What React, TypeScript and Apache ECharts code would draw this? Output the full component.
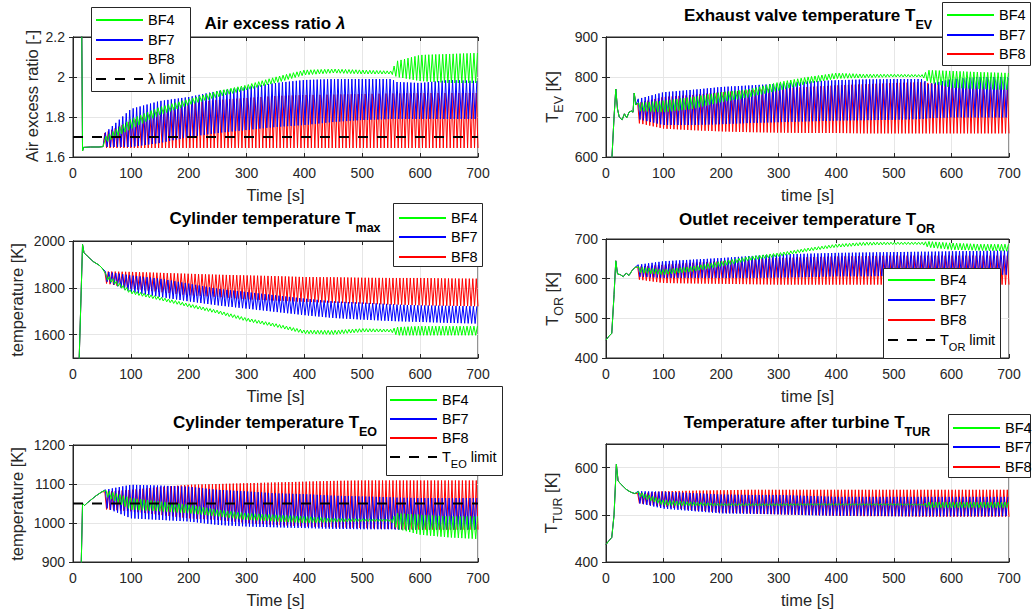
import React, { useEffect, useRef } from 'react';
import * as echarts from 'echarts';

const FONT = '"Liberation Sans", Arial, Helvetica, sans-serif';
const INK = '#262626';
const GRIDC = '#e6e6e6';
const GREEN = '#00ff00';
const BLUE = '#0000ff';
const RED = '#ff0000';
const SERIES_COLORS: Record<string, string> = { BF4: GREEN, BF7: BLUE, BF8: RED };

// time axis
const X_TICKS_MAX = 700;
const HALF_PERIOD = 3; // s, half oscillation period
// envelope knots (s)
const KNOTS = [55, 100, 150, 200, 250, 300, 350, 400, 450, 500, 550, 560, 600, 650, 700];

// ---------- Air excess ratio λ ----------
const LAM_START_T = [0, 15, 16.5, 18, 30, 45, 52];
const LAM_START_V = [2.3, 2.3, 1.63, 1.648, 1.65, 1.65, 1.652];
const LAM_BF4_HI = [1.70, 1.79, 1.85, 1.89, 1.93, 1.96, 2.0, 2.035, 2.04, 2.035, 2.03, 2.08, 2.11, 2.115, 2.12];
const LAM_BF4_LO = [1.67, 1.74, 1.81, 1.86, 1.90, 1.935, 1.97, 2.01, 2.02, 2.015, 2.015, 2.0, 1.98, 1.97, 1.97];
const LAM_BF7_HI = [1.72, 1.84, 1.88, 1.90, 1.93, 1.95, 1.97, 1.985, 1.99, 1.99, 1.99, 1.975, 1.97, 1.985, 1.98];
const LAM_BF7_LO = [1.65, 1.65, 1.67, 1.70, 1.72, 1.735, 1.75, 1.76, 1.775, 1.785, 1.79, 1.79, 1.79, 1.79, 1.79];
const LAM_BF8_HI = [1.72, 1.78, 1.83, 1.87, 1.885, 1.895, 1.905, 1.91, 1.912, 1.915, 1.918, 1.918, 1.92, 1.92, 1.92];
const LAM_BF8_LO = [1.645, 1.645, 1.645, 1.645, 1.645, 1.645, 1.645, 1.645, 1.645, 1.645, 1.645, 1.645, 1.645, 1.645, 1.645];
const LAM_LIMIT = 1.7;

// ---------- Exhaust valve temperature T_EV ----------
const TEV_START_T = [0, 10, 14, 17, 20, 23, 28, 32, 36, 40, 44, 47, 49, 52];
const TEV_START_V = [560, 590, 700, 770, 720, 700, 693, 708, 698, 712, 715, 712, 760, 730];
const TEV_BF4_HI = [735, 741, 750, 762, 770, 787, 800, 810, 807, 807, 806, 817, 815, 812, 810];
const TEV_BF4_LO = [715, 712, 720, 737, 750, 766, 783, 796, 798, 800, 800, 787, 773, 770, 768];
const TEV_BF7_HI = [745, 762, 768, 775, 779, 783, 789, 792, 794, 795, 795, 782, 795, 800, 800];
const TEV_BF7_LO = [695, 680, 680, 682, 685, 687, 689, 691, 692, 693, 695, 697, 699, 699, 699];
const TEV_BF8_HI = [735, 750, 755, 762, 767, 771, 775, 779, 782, 785, 787, 785, 779, 776, 773];
const TEV_BF8_LO = [685, 671, 667, 664, 662, 661, 660, 660, 659, 659, 659, 659, 659, 659, 659];

// ---------- Cylinder temperature T_max ----------
const TMAX_START_T = [0, 10.5, 16.5, 19, 25, 35, 45, 50];
const TMAX_START_V = [1400, 1480, 1985, 1950, 1935, 1912, 1897, 1885];
const TMAX_BF4_HI = [1860, 1790, 1761, 1732, 1704, 1671, 1647, 1619, 1618, 1626, 1623, 1632, 1636, 1636, 1636];
const TMAX_BF4_LO = [1840, 1775, 1747, 1718, 1690, 1657, 1633, 1604, 1600, 1611, 1611, 1597, 1597, 1597, 1597];
const TMAX_BF7_HI = [1870, 1853, 1839, 1818, 1796, 1782, 1768, 1754, 1742, 1737, 1730, 1728, 1725, 1723, 1721];
const TMAX_BF7_LO = [1830, 1782, 1761, 1742, 1725, 1711, 1697, 1683, 1671, 1664, 1658, 1657, 1654, 1650, 1647];
const TMAX_BF8_HI = [1870, 1868, 1864, 1860, 1856, 1853, 1850, 1846, 1845, 1843, 1842, 1842, 1842, 1840, 1839];
const TMAX_BF8_LO = [1820, 1796, 1782, 1768, 1761, 1751, 1745, 1740, 1736, 1732, 1728, 1728, 1725, 1723, 1721];
const TMAX_TICKS = [1600, 1800, 2000];

// ---------- Outlet receiver temperature T_OR ----------
const TOR_START_T = [0, 5, 10, 14, 17, 20, 25, 30, 35, 40, 45, 50];
const TOR_START_V = [445, 455, 462, 560, 645, 612, 610, 605, 614, 608, 620, 628];
const TOR_BF4_HI = [630, 623, 631, 644, 656, 665, 677, 687, 692, 692, 692, 694, 690, 687, 687];
const TOR_BF4_LO = [615, 610, 618, 631, 646, 656, 669, 679, 684, 686, 686, 679, 673, 671, 669];
const TOR_BF7_HI = [635, 644, 648, 652, 657, 661, 663, 665, 666, 667, 668, 668, 669, 670, 671];
const TOR_BF7_LO = [605, 602, 602, 602, 602, 603, 604, 606, 606, 607, 607, 608, 608, 609, 610];
const TOR_BF8_HI = [630, 635, 640, 644, 648, 652, 654, 656, 657, 658, 658, 658, 658, 658, 658];
const TOR_BF8_LO = [598, 589, 588, 587, 586, 585, 585, 585, 585, 585, 585, 585, 585, 585, 585];

// ---------- Cylinder temperature T_EO ----------
const TEO_START_T = [0, 14, 16.5, 20, 25, 30, 40, 50];
const TEO_START_V = [870, 880, 1050, 1045, 1052, 1058, 1070, 1080];
const TEO_BF4_HI = [1085, 1064, 1055, 1047, 1034, 1025, 1021, 1017, 1012, 1011, 1010, 1025, 1021, 1017, 1017];
const TEO_BF4_LO = [1070, 1034, 1030, 1025, 1017, 1008, 1004, 1000, 1002, 1004, 1004, 985, 970, 963, 959];
const TEO_BF7_HI = [1085, 1098, 1096, 1093, 1085, 1081, 1076, 1074, 1070, 1068, 1066, 1065, 1064, 1064, 1064];
const TEO_BF7_LO = [1040, 1012, 1008, 1004, 995, 991, 989, 987, 985, 984, 984, 983, 983, 983, 983];
const TEO_BF8_HI = [1080, 1085, 1092, 1098, 1100, 1102, 1104, 1106, 1108, 1109, 1109, 1109, 1109, 1109, 1109];
const TEO_BF8_LO = [1035, 1030, 1021, 1012, 1008, 1000, 995, 991, 989, 987, 985, 984, 983, 983, 983];
const TEO_LIMIT = 1050;

// ---------- Temperature after turbine T_TUR ----------
const TTUR_START_T = [0, 5, 10, 14, 18, 21, 25, 30, 35, 40, 45, 50];
const TTUR_START_V = [437, 445, 452, 500, 607, 572, 566, 560, 554, 550, 547, 545];
const TTUR_BF4_HI = [550, 531, 527, 524, 524, 524, 524, 524, 524, 524, 523, 527, 527, 527, 527];
const TTUR_BF4_LO = [540, 520, 519, 519, 519, 519, 520, 520, 520, 520, 520, 515, 515, 515, 515];
const TTUR_BF7_HI = [550, 549, 546, 543, 542, 542, 540, 538, 538, 538, 538, 538, 538, 538, 538];
const TTUR_BF7_LO = [525, 513, 508, 503, 502, 501, 499, 498, 498, 497, 497, 497, 497, 497, 497];
const TTUR_BF8_HI = [545, 550, 551, 552, 553, 553, 553, 553, 553, 553, 553, 553, 553, 553, 553];
const TTUR_BF8_LO = [525, 517, 510, 505, 503, 501, 500, 498, 497, 497, 496, 496, 496, 496, 496];
const TTUR_TICKS = [400, 500, 600];

const X_TICKS = [0, 100, 200, 300, 400, 500, 600, 700];

function envAt(env: number[], t: number): number {
  if (t <= KNOTS[0]) return env[0];
  for (let i = 1; i < KNOTS.length; i++) {
    if (t <= KNOTS[i]) {
      const f = (t - KNOTS[i - 1]) / (KNOTS[i] - KNOTS[i - 1]);
      return env[i - 1] + f * (env[i] - env[i - 1]);
    }
  }
  return env[env.length - 1];
}

function trace(startT: number[], startV: number[], hi: number[], lo: number[], phase: number) {
  const pts: number[][] = startT.map((t, i) => [t, startV[i]]);
  let k = 0;
  for (let t = KNOTS[0] + phase; t <= X_TICKS_MAX; t += HALF_PERIOD, k++) {
    pts.push([t, envAt(k % 2 === 0 ? hi : lo, t)]);
  }
  return pts;
}

type LegendBox = { x: number; y: number; w: number; h: number; rows: number[]; sx: number; names: string[] };

type Panel = {
  grid: { left: number; top: number; width: number; height: number };
  yMin: number; yMax: number; yInterval: number; yCustom?: number[];
  xName: string;
  start: [number[], number[]];
  bf4: [number[], number[]]; bf7: [number[], number[]]; bf8: [number[], number[]];
  limit?: { name: string; value: number | null };
  legend: LegendBox;
  title: { x: number; y: number; text: string };
  yName: { x: number; y: number; text: string };
};

const PANELS: Panel[] = [
  {
    grid: { left: 73, top: 37, width: 405, height: 120 }, yMin: 1.6, yMax: 2.2, yInterval: 0.2,
    xName: 'Time [s]', start: [LAM_START_T, LAM_START_V],
    bf4: [LAM_BF4_HI, LAM_BF4_LO], bf7: [LAM_BF7_HI, LAM_BF7_LO], bf8: [LAM_BF8_HI, LAM_BF8_LO],
    limit: { name: 'λ limit', value: LAM_LIMIT },
    legend: { x: 91, y: 7, w: 99, h: 84, rows: [20, 40, 59, 79], sx: 96, names: ['BF4', 'BF7', 'BF8', 'λ limit'] },
    title: { x: 275, y: 23, text: '{m|Air excess ratio }{l|λ}' },
    yName: { x: 32, y: 96, text: '{m|Air excess ratio [-]}' },
  },
  {
    grid: { left: 606, top: 37, width: 403, height: 120 }, yMin: 600, yMax: 900, yInterval: 100,
    xName: 'time [s]', start: [TEV_START_T, TEV_START_V],
    bf4: [TEV_BF4_HI, TEV_BF4_LO], bf7: [TEV_BF7_HI, TEV_BF7_LO], bf8: [TEV_BF8_HI, TEV_BF8_LO],
    legend: { x: 942, y: 2, w: 88, h: 63, rows: [15, 35, 54], sx: 947, names: ['BF4', 'BF7', 'BF8'] },
    title: { x: 808, y: 15, text: '{m|Exhaust valve temperature T}{s|EV}' },
    yName: { x: 552, y: 97, text: '{m|T}{s|EV}{m| [K]}' },
  },
  {
    grid: { left: 73, top: 241, width: 405, height: 117 }, yMin: 1500, yMax: 2000, yInterval: 100, yCustom: TMAX_TICKS,
    xName: 'Time [s]', start: [TMAX_START_T, TMAX_START_V],
    bf4: [TMAX_BF4_HI, TMAX_BF4_LO], bf7: [TMAX_BF7_HI, TMAX_BF7_LO], bf8: [TMAX_BF8_HI, TMAX_BF8_LO],
    legend: { x: 393, y: 203, w: 89, h: 63, rows: [218, 237, 257], sx: 399, names: ['BF4', 'BF7', 'BF8'] },
    title: { x: 275, y: 218, text: '{m|Cylinder temperature T}{s|max}' },
    yName: { x: 17, y: 300, text: '{m|temperature [K]}' },
  },
  {
    grid: { left: 606, top: 239, width: 403, height: 119 }, yMin: 400, yMax: 700, yInterval: 100,
    xName: 'time [s]', start: [TOR_START_T, TOR_START_V],
    bf4: [TOR_BF4_HI, TOR_BF4_LO], bf7: [TOR_BF7_HI, TOR_BF7_LO], bf8: [TOR_BF8_HI, TOR_BF8_LO],
    limit: { name: 'T_OR limit', value: null },
    legend: { x: 883, y: 268, w: 117, h: 90, rows: [280, 300, 320, 340], sx: 888, names: ['BF4', 'BF7', 'BF8', 'T_OR limit'] },
    title: { x: 807, y: 219, text: '{m|Outlet receiver temperature T}{s|OR}' },
    yName: { x: 552, y: 299, text: '{m|T}{s|OR}{m| [K]}' },
  },
  {
    grid: { left: 73, top: 445, width: 405, height: 117 }, yMin: 900, yMax: 1200, yInterval: 100,
    xName: 'Time [s]', start: [TEO_START_T, TEO_START_V],
    bf4: [TEO_BF4_HI, TEO_BF4_LO], bf7: [TEO_BF7_HI, TEO_BF7_LO], bf8: [TEO_BF8_HI, TEO_BF8_LO],
    limit: { name: 'T_EO limit', value: TEO_LIMIT },
    legend: { x: 386, y: 386, w: 116, h: 89, rows: [400, 419, 438, 457], sx: 390, names: ['BF4', 'BF7', 'BF8', 'T_EO limit'] },
    title: { x: 275, y: 422.5, text: '{m|Cylinder temperature T}{s|EO}' },
    yName: { x: 17, y: 504, text: '{m|temperature [K]}' },
  },
  {
    grid: { left: 606, top: 444, width: 403, height: 118 }, yMin: 400, yMax: 650, yInterval: 50, yCustom: TTUR_TICKS,
    xName: 'time [s]', start: [TTUR_START_T, TTUR_START_V],
    bf4: [TTUR_BF4_HI, TTUR_BF4_LO], bf7: [TTUR_BF7_HI, TTUR_BF7_LO], bf8: [TTUR_BF8_HI, TTUR_BF8_LO],
    legend: { x: 948, y: 414, w: 82, h: 63, rows: [428, 447, 467], sx: 953, names: ['BF4', 'BF7', 'BF8'] },
    title: { x: 807, y: 422.5, text: '{m|Temperature after turbine T}{s|TUR}' },
    yName: { x: 551, y: 503, text: '{m|T}{s|TUR}{m| [K]}' },
  },
];

const DASH = [10, 9];
const SAMPLE_LEN = 47;

function tickText(v: number): string {
  return String(Number(v.toFixed(6)));
}

function legendGraphics(lg: LegendBox, key: string): any[] {
  const out: any[] = [
    {
      type: 'rect', id: key + '-box', silent: true, z: 100,
      shape: { x: Math.round(lg.x) + 0.5, y: Math.round(lg.y) + 0.5, width: lg.w, height: lg.h },
      style: { fill: '#ffffff', stroke: INK, lineWidth: 1 },
    },
  ];
  lg.names.forEach((n, k) => {
    const isLimit = n.indexOf('limit') >= 0;
    const yr = lg.rows[k];
    if (isLimit) {
      let x = lg.sx;
      let d = 0;
      while (x < lg.sx + SAMPLE_LEN) {
        const w = Math.min(DASH[0], lg.sx + SAMPLE_LEN - x);
        out.push({
          type: 'rect', id: key + '-d' + k + '-' + d, silent: true, z: 101,
          shape: { x, y: yr - 1, width: w, height: 2 },
          style: { fill: '#000000' },
        });
        x += DASH[0] + DASH[1];
        d++;
      }
    } else {
      out.push({
        type: 'rect', id: key + '-s' + k, silent: true, z: 101,
        shape: { x: lg.sx, y: yr - 1, width: SAMPLE_LEN, height: 2 },
        style: { fill: SERIES_COLORS[n] },
      });
    }
    const textX = lg.sx + SAMPLE_LEN + 5;
    if (n === 'T_OR limit' || n === 'T_EO limit') {
      const sub = n === 'T_OR limit' ? 'OR' : 'EO';
      out.push({
        type: 'text', id: key + '-t' + k, silent: true, z: 101, x: textX, y: yr,
        style: {
          text: '{t|T}{s|' + sub + '}{t| limit}', align: 'left', verticalAlign: 'middle', fill: '#000000',
          rich: {
            t: { fontSize: 14.5, fontFamily: FONT, fill: '#000000' },
            s: { fontSize: 11, fontFamily: FONT, fill: '#000000', padding: [13, 0, 0, 0] },
          },
        },
      });
    } else {
      out.push({
        type: 'text', id: key + '-t' + k, silent: true, z: 101, x: textX, y: yr,
        style: {
          text: n, align: 'left', verticalAlign: 'middle', fill: '#000000',
          fontSize: 14.5, fontFamily: FONT,
        },
      });
    }
  });
  return out;
}

function buildOption() {
  const grid: any[] = [];
  const xAxis: any[] = [];
  const yAxis: any[] = [];
  const series: any[] = [];
  const graphic: any[] = [];

  PANELS.forEach((p, i) => {
    grid.push({ ...p.grid, show: true, borderColor: INK, borderWidth: 1, backgroundColor: '#fff' });
    const xi = xAxis.length;
    xAxis.push({
      gridIndex: i, type: 'value', min: 0, max: X_TICKS_MAX, interval: 100, position: 'bottom',
      axisLine: { show: true, lineStyle: { color: INK } },
      axisTick: { show: true, inside: true, length: 4, lineStyle: { color: INK }, customValues: X_TICKS },
      axisLabel: { show: true, margin: 9, fontSize: 14, color: INK, fontFamily: FONT, customValues: X_TICKS, formatter: tickText },
      splitLine: { show: true, lineStyle: { color: GRIDC, width: 1 } },
      name: p.xName, nameLocation: 'middle', nameGap: 29,
      nameTextStyle: { fontSize: 16.5, color: INK, fontFamily: FONT },
    });
    xAxis.push({
      gridIndex: i, type: 'value', min: 0, max: X_TICKS_MAX, interval: 100, position: 'top',
      axisLine: { show: true, lineStyle: { color: INK } },
      axisTick: { show: true, inside: true, length: 4, lineStyle: { color: INK }, customValues: X_TICKS },
      axisLabel: { show: false }, splitLine: { show: false },
    });
    const yi = yAxis.length;
    const yBase: any = {
      gridIndex: i, type: 'value', min: p.yMin, max: p.yMax, interval: p.yInterval,
    };
    const tickCustom = p.yCustom ? { customValues: p.yCustom } : {};
    yAxis.push({
      ...yBase, position: 'left',
      axisLine: { show: true, lineStyle: { color: INK } },
      axisTick: { show: true, inside: true, length: 4, lineStyle: { color: INK }, ...tickCustom },
      axisLabel: { show: true, margin: 8, fontSize: 14, color: INK, fontFamily: FONT, formatter: tickText, ...tickCustom },
      splitLine: { show: true, lineStyle: { color: GRIDC, width: 1 } },
    });
    yAxis.push({
      ...yBase, position: 'right',
      axisLine: { show: true, lineStyle: { color: INK } },
      axisTick: { show: true, inside: true, length: 4, lineStyle: { color: INK }, ...tickCustom },
      axisLabel: { show: false }, splitLine: { show: false },
    });

    const common = { type: 'line', xAxisIndex: xi, yAxisIndex: yi, symbol: 'none', showSymbol: false, silent: true, clip: true };
    series.push({ ...common, name: 'BF8', data: trace(p.start[0], p.start[1], p.bf8[0], p.bf8[1], 0), lineStyle: { color: RED, width: 1 }, itemStyle: { color: RED }, z: 2 });
    series.push({ ...common, name: 'BF7', data: trace(p.start[0], p.start[1], p.bf7[0], p.bf7[1], 1), lineStyle: { color: BLUE, width: 1 }, itemStyle: { color: BLUE }, z: 3 });
    series.push({ ...common, name: 'BF4', data: trace(p.start[0], p.start[1], p.bf4[0], p.bf4[1], 2), lineStyle: { color: GREEN, width: 1 }, itemStyle: { color: GREEN }, z: 4 });
    if (p.limit) {
      const v = p.limit.value;
      series.push({
        ...common, name: p.limit.name,
        data: v === null ? [] : [[0, v], [X_TICKS_MAX, v]],
        lineStyle: { color: '#000', width: 2, type: DASH }, itemStyle: { color: '#000' }, z: 5,
      });
    }

    graphic.push(...legendGraphics(p.legend, 'lg' + i));

    graphic.push({
      type: 'text', id: 'title' + i, x: p.title.x, y: p.title.y, silent: true,
      style: {
        text: p.title.text, align: 'center', verticalAlign: 'middle', fill: '#000',
        rich: {
          m: { fontSize: 17, fontWeight: 'bold', fontFamily: FONT, fill: '#000' },
          l: { fontSize: 17, fontWeight: 'bold', fontStyle: 'italic', fontFamily: FONT, fill: '#000' },
          s: { fontSize: 12.5, fontWeight: 'bold', fontFamily: FONT, fill: '#000', padding: [19, 0, 0, 0] },
        },
      },
    });
    graphic.push({
      type: 'text', id: 'yname' + i, x: p.yName.x, y: p.yName.y, rotation: Math.PI / 2, silent: true,
      style: {
        text: p.yName.text, align: 'center', verticalAlign: 'middle', fill: INK,
        rich: {
          m: { fontSize: 16.5, fontFamily: FONT, fill: INK },
          s: { fontSize: 12.5, fontFamily: FONT, fill: INK, padding: [14, 0, 0, 0] },
        },
      },
    });
  });

  return {
    animation: false,
    backgroundColor: '#fff',
    textStyle: { fontFamily: FONT },
    grid, xAxis, yAxis, series, graphic,
  };
}

export default function App() {
  const ref = useRef<HTMLDivElement>(null);
  useEffect(() => {
    if (!ref.current) return;
    const chart = echarts.init(ref.current, undefined, { renderer: 'svg' });
    chart.setOption(buildOption() as any);
    return () => chart.dispose();
  }, []);
  return <div ref={ref} style={{ position: 'fixed', left: 0, top: 0, width: 1035, height: 615 }} />;
}
